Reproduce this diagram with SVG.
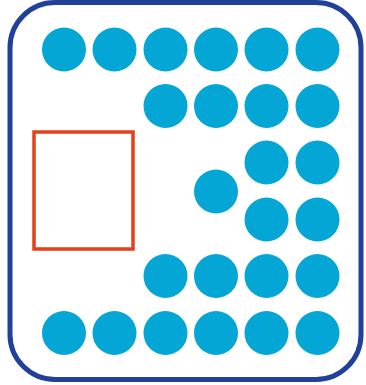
<svg xmlns="http://www.w3.org/2000/svg" width="366" height="385" viewBox="0 0 366 385">
<style>
.dot{fill:#03a6d5}
.frame{fill:none;stroke:#21409a;stroke-width:5}
.box{fill:none;stroke:#e5401a;stroke-width:3.5}
</style>
<rect width="366" height="385" fill="#ffffff"/>
<g id="frame"><rect class="frame" x="10" y="2.5" width="351" height="377" rx="45" ry="45"/></g>
<g id="box"><rect class="box" x="34" y="132" width="99" height="117"/></g>
<g id="dots">
<circle class="dot" cx="64" cy="49.5" r="22"/>
<circle class="dot" cx="114.5" cy="49.5" r="22"/>
<circle class="dot" cx="165.5" cy="49.5" r="22"/>
<circle class="dot" cx="216" cy="49.5" r="22"/>
<circle class="dot" cx="266.5" cy="49.5" r="22"/>
<circle class="dot" cx="317.5" cy="49.5" r="22"/>
<circle class="dot" cx="165.5" cy="106" r="22"/>
<circle class="dot" cx="216" cy="106" r="22"/>
<circle class="dot" cx="266.5" cy="106" r="22"/>
<circle class="dot" cx="317.5" cy="106" r="22"/>
<circle class="dot" cx="266.5" cy="162.5" r="22"/>
<circle class="dot" cx="317.5" cy="162.5" r="22"/>
<circle class="dot" cx="216" cy="191.5" r="22"/>
<circle class="dot" cx="266.5" cy="219.5" r="22"/>
<circle class="dot" cx="317.5" cy="219.5" r="22"/>
<circle class="dot" cx="165.5" cy="276" r="22"/>
<circle class="dot" cx="216" cy="276" r="22"/>
<circle class="dot" cx="266.5" cy="276" r="22"/>
<circle class="dot" cx="317.5" cy="276" r="22"/>
<circle class="dot" cx="64" cy="333" r="22"/>
<circle class="dot" cx="114.5" cy="333" r="22"/>
<circle class="dot" cx="165.5" cy="333" r="22"/>
<circle class="dot" cx="216" cy="333" r="22"/>
<circle class="dot" cx="266.5" cy="333" r="22"/>
<circle class="dot" cx="317.5" cy="333" r="22"/>
</g>
</svg>
